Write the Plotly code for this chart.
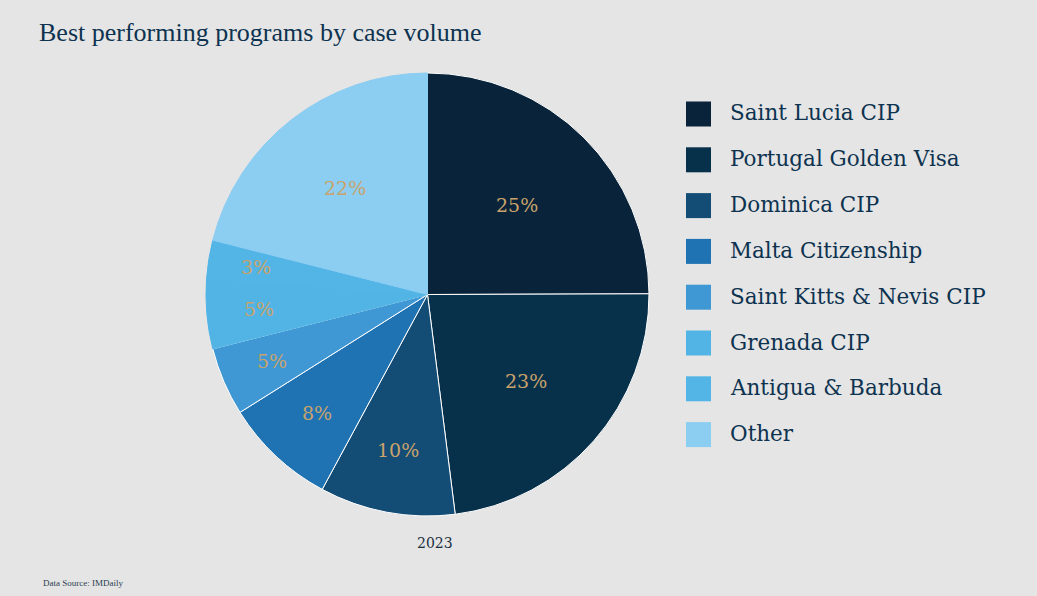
import math
import plotly.graph_objects as go

programs = ["Saint Lucia CIP", "Portugal Golden Visa", "Dominica CIP", "Malta Citizenship",
            "Saint Kitts & Nevis CIP", "Grenada CIP", "Antigua & Barbuda", "Other"]
shares = [25.0, 23.1, 9.9, 8.2, 5.0, 5.1, 2.8, 21.1]          # slice sizes
share_labels = ["25%", "23%", "10%", "8%", "5%", "5%", "3%", "22%"]  # printed labels
colors = ["#08233a", "#07304b", "#134d75", "#1f73b3", "#3f98d4", "#52b4e5", "#53b5e6", "#8ccdf2"]
edge_colors = ["white", "white", "white", "white", "white", "#52b4e5", "#53b5e6", "#8ccdf2"]
year = "2023"

BG = "#e5e5e5"
SERIF = "Georgia, 'DejaVu Serif', serif"
W, H = 1037, 596
PX0, PX1, PY0, PY1 = 206, 649, 73, 516   # pie box in pixels
CX, CY, R = (PX0 + PX1) / 2, (PY0 + PY1) / 2, (PX1 - PX0) / 2

fig = go.Figure()
fig.add_trace(go.Pie(
    labels=programs, values=shares, sort=False, direction="clockwise", rotation=0,
    marker=dict(colors=colors, line=dict(color=edge_colors, width=1)),
    textinfo="none",
    domain=dict(x=[PX0 / W, PX1 / W], y=[1 - PY1 / H, 1 - PY0 / H]),
    showlegend=False, hoverinfo="label+percent",
))

# percentage labels at each slice's mid-angle
total = sum(shares)
cum = 0
for s, lab in zip(shares, share_labels):
    mid = (cum + s / 2) / total * 2 * math.pi
    cum += s
    rf = 0.81 - 0.0095 * s
    x = CX + rf * R * math.sin(mid)
    y = CY - rf * R * math.cos(mid)
    fig.add_annotation(text=lab, xref="paper", yref="paper", x=x / W, y=1 - y / H,
                       xanchor="center", yanchor="middle", showarrow=False,
                       font=dict(family=SERIF, size=19, color="#c9a36b"))

# year caption under the pie
fig.add_annotation(text=year, xref="paper", yref="paper", x=435 / W, y=1 - 543 / H,
                   xanchor="center", yanchor="middle", showarrow=False,
                   font=dict(family=SERIF, size=14, color="#1a2e40"))

# custom legend
y0, step = 114, 45.8
for i, (name, col) in enumerate(zip(programs, colors)):
    yc = y0 + i * step
    fig.add_shape(type="rect", xref="paper", yref="paper",
                  x0=686 / W, x1=711 / W, y0=1 - (yc + 12.5) / H, y1=1 - (yc - 12.5) / H,
                  fillcolor=col, line=dict(width=0))
    fig.add_annotation(text=name, xref="paper", yref="paper", x=728 / W, y=1 - (yc - 1) / H,
                       xanchor="left", yanchor="middle", showarrow=False,
                       font=dict(family=SERIF, size=21.5, color="#0d3350"))

fig.add_annotation(text="Best performing programs by case volume", xref="paper", yref="paper",
                   x=37 / W, y=1 - 32 / H, xanchor="left", yanchor="middle", showarrow=False,
                   font=dict(family="'Liberation Serif', serif", size=26, color="#0d3350"))
fig.add_annotation(text="Data Source: IMDaily", xref="paper", yref="paper",
                   x=41 / W, y=1 - 583 / H, xanchor="left", yanchor="middle", showarrow=False,
                   font=dict(family="'Liberation Serif', serif", size=9, color="#2c3e50"))

fig.update_layout(width=W, height=H, paper_bgcolor=BG, plot_bgcolor=BG,
                  margin=dict(l=0, r=0, t=0, b=0))
fig.write_html("out.html", config={"displayModeBar": False},
               post_script="document.body.style.margin='0';")
